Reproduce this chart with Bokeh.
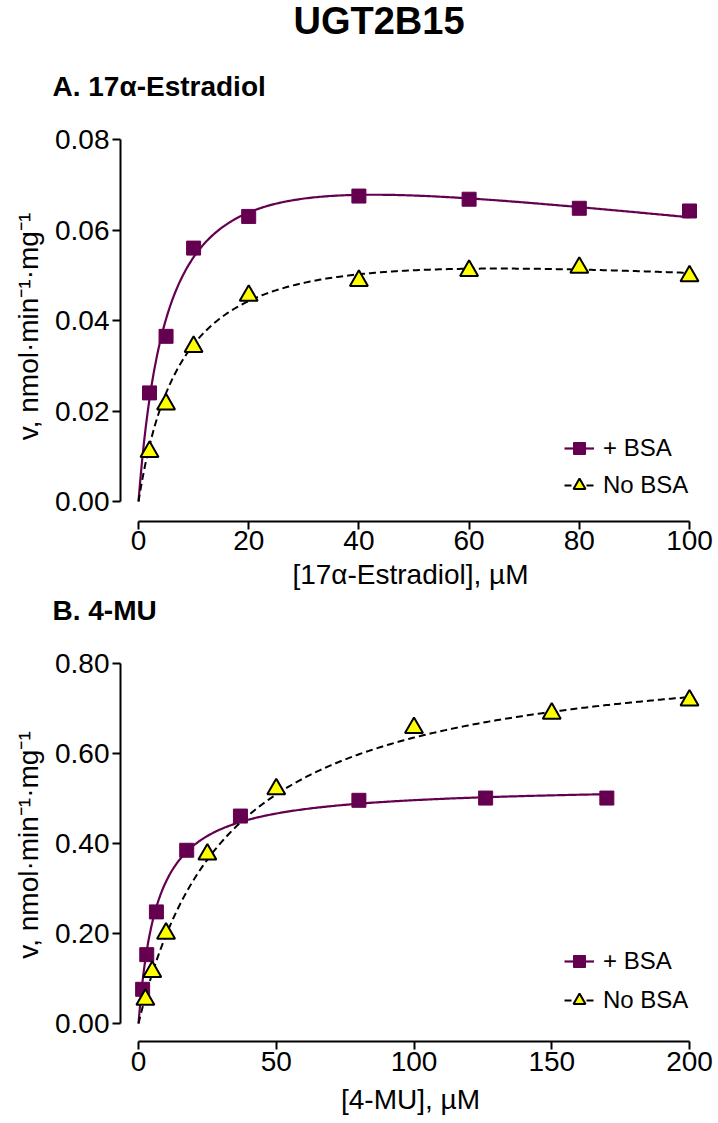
import math
import numpy as np
from bokeh.plotting import figure
from bokeh.layouts import column
from bokeh.models import (Range1d, FixedTicker, NumeralTickFormatter, Title,
                          Legend, LegendItem)
from bokeh.embed import file_html
from bokeh.resources import INLINE

# ---------------- data ----------------
main_title = "UGT2B15"
panel_a_title = "A. 17\u03b1-Estradiol"
panel_b_title = "B. 4-MU"
x_label_a = "[17\u03b1-Estradiol], \u00b5M"
x_label_b = "[4-MU], \u00b5M"
y_label = "v, nmol\u00b7min\u207b\u00b9\u00b7mg\u207b\u00b9"
series_names = ["+ BSA", "No BSA"]

# Panel A: 17alpha-estradiol
a_bsa_x = [2, 5, 10, 20, 40, 60, 80, 100]
a_bsa_y = [0.0240, 0.0365, 0.0560, 0.0630, 0.0675, 0.0668, 0.0648, 0.0642]
a_nobsa_x = [2, 5, 10, 20, 40, 60, 80, 100]
a_nobsa_y = [0.0110, 0.0215, 0.0342, 0.0455, 0.0488, 0.0510, 0.0517, 0.0498]
# fitted substrate-inhibition parameters (Vmax, Km, Ki) and curve extent
a_bsa_fit = [0.0853, 5.5, 330.0]
a_nobsa_fit = [0.0649, 8.5, 500.0]
a_curve_end = [100, 100]

# Panel B: 4-MU
b_bsa_x = [1.5, 3, 6.5, 17.5, 37, 80, 126, 170]
b_bsa_y = [0.076, 0.153, 0.248, 0.385, 0.461, 0.496, 0.501, 0.501]
b_nobsa_x = [2.5, 5, 10, 25, 50, 100, 150, 200]
b_nobsa_y = [0.053, 0.115, 0.200, 0.376, 0.521, 0.657, 0.689, 0.718]
# fitted Michaelis-Menten parameters (Vmax, Km, Ki=inf) and curve extent
b_bsa_fit = [0.53, 6.8, math.inf]
b_nobsa_fit = [0.845, 33.0, math.inf]
b_curve_end = [170, 200]

a_xticks = [0, 20, 40, 60, 80, 100]
a_yticks = [0.0, 0.02, 0.04, 0.06, 0.08]
b_xticks = [0, 50, 100, 150, 200]
b_yticks = [0.0, 0.2, 0.4, 0.6, 0.8]

# ---------------- style ----------------
PURPLE = "#650050"
YELLOW = "#FFFF00"
FONT = "Liberation Sans"


def fit_curve(params, xmax):
    vmax, km, ki = params
    s = np.linspace(0, xmax, 300)
    return s, vmax * s / (km + s * (1 + s / ki))


def make_panel(xb, xe, yb, ye, xbounds, ybounds, xticks, yticks, fh, top,
               bsa_x, bsa_y, nob_x, nob_y, bsa_fit, nob_fit, curve_end, xlabel,
               tick_standoff, xlabel_standoff, leg_y, leg_spacing, titles, below_titles):
    p = figure(frame_width=580, frame_height=fh, output_backend="svg", toolbar_location=None,
               x_range=Range1d(xb, xe), y_range=Range1d(yb, ye),
               min_border_left=120, min_border_right=18, min_border_top=top,
               min_border_bottom=0, title=None)
    p.outline_line_color = None
    p.grid.visible = False
    p.background_fill_color = "white"

    for ax in (p.xaxis[0], p.yaxis[0]):
        ax.axis_line_width = 2
        ax.axis_line_color = "black"
        ax.major_tick_line_width = 2
        ax.major_tick_out = 8
        ax.major_tick_in = 0
        ax.minor_tick_line_color = None
        ax.major_label_text_font = FONT
        ax.major_label_text_font_size = "28px"
        ax.major_label_text_color = "black"
        ax.axis_label_text_font = FONT
        ax.axis_label_text_font_size = "28px"
        ax.axis_label_text_font_style = "normal"
        ax.axis_label_text_color = "black"
    p.xaxis[0].ticker = FixedTicker(ticks=xticks)
    p.yaxis[0].ticker = FixedTicker(ticks=yticks)
    p.yaxis[0].formatter = NumeralTickFormatter(format="0.00")
    p.xaxis[0].bounds = xbounds
    p.yaxis[0].bounds = ybounds
    p.xaxis[0].major_label_standoff = tick_standoff
    p.yaxis[0].major_label_standoff = 3
    p.xaxis[0].axis_label = xlabel
    p.xaxis[0].axis_label_standoff = xlabel_standoff
    p.yaxis[0].axis_label = y_label
    p.yaxis[0].axis_label_standoff = 8

    cx, cy = fit_curve(bsa_fit, curve_end[0])
    l1 = p.line(cx, cy, line_color=PURPLE, line_width=2.2)
    cx2, cy2 = fit_curve(nob_fit, curve_end[1])
    l2 = p.line(cx2, cy2, line_color="black", line_width=2, line_dash="7 4")

    s1 = p.scatter(bsa_x, bsa_y, marker="square", size=14, fill_color=PURPLE,
                   line_color=PURPLE, line_width=1)
    s2 = p.scatter(nob_x, nob_y, marker="triangle", size=18, fill_color=YELLOW,
                   line_color="black", line_width=2)

    legend = Legend(items=[LegendItem(label=series_names[0], renderers=[l1, s1]),
                           LegendItem(label=series_names[1], renderers=[l2, s2])],
                    location=(444, leg_y), padding=0, margin=0, spacing=leg_spacing,
                    glyph_width=30, glyph_height=36, label_height=36, label_standoff=9,
                    label_text_font=FONT, label_text_font_size="24px",
                    label_text_color="black",
                    border_line_color=None, background_fill_alpha=0)
    p.add_layout(legend, "center")

    for (txt, size, offset, standoff) in titles:
        p.add_layout(Title(text=txt, text_font=FONT, text_font_size=size,
                           text_font_style="bold", text_color="black", align="left",
                           offset=offset, standoff=standoff), "above")
    for (txt, size, offset, standoff) in below_titles:
        p.add_layout(Title(text=txt, text_font=FONT, text_font_size=size,
                           text_font_style="bold", text_color="black", align="left",
                           offset=offset, standoff=standoff), "below")
    return p


pA = make_panel(-18 / 5.51, 100 + 11 / 5.51, -20 / 4525, 0.08 + 8 / 4525, (0, 100), (0, 0.08),
                a_xticks, a_yticks, 390, 130,
                a_bsa_x, a_bsa_y, a_nobsa_x, a_nobsa_y, a_bsa_fit, a_nobsa_fit, a_curve_end,
                x_label_a, 1, 6, 18, 1,
                [(panel_a_title, "28px", -68, 60),
                 (main_title, "38px", 173, -6)],
                [(panel_b_title, "28px", -68, 0)])

pB = make_panel(-18 / 2.755, 200 + 11 / 2.755, -18 / 450, 0.8 + 15 / 450, (0, 200), (0, 0.8),
                b_xticks, b_yticks, 393, 23,
                b_bsa_x, b_bsa_y, b_nobsa_x, b_nobsa_y, b_bsa_fit, b_nobsa_fit, b_curve_end,
                x_label_b, 2, 10, 23, 3,
                [], [])

layout = column(pA, pB, spacing=0)
open("out.html", "w").write(file_html(layout, INLINE))
